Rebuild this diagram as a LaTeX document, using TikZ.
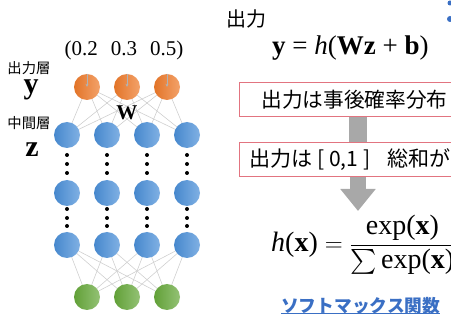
\documentclass[tikz,border=0pt]{standalone}
\usepackage{fontspec}
\usepackage{amsmath}
\usepackage{graphicx}
\setmainfont{Liberation Serif}
\newfontfamily\jpfont{Noto Sans CJK JP}
\usetikzlibrary{arrows.meta,backgrounds}
\definecolor{nblue}{HTML}{4A8FD8}
\definecolor{norange}{HTML}{EE7A2A}
\definecolor{ngreen}{HTML}{66A83A}
\definecolor{boxred}{HTML}{E27480}
\definecolor{linkblue}{HTML}{3A6FC4}
\definecolor{edgegray}{HTML}{D0D0D0}
\definecolor{fatgray}{HTML}{A8A8A8}
\newcommand\tx[1]{\text{#1}}
\newcommand\jpw[2]{\resizebox{#1}{!}{\jpfont #2}}
\tikzset{
  neuron/.style={circle, minimum size=26pt, inner sep=0pt},
  bneuron/.style={neuron, left color=nblue!95!black, right color=nblue!70!white},
  oneuron/.style={neuron, left color=norange!95!black, right color=norange!70!white},
  gneuron/.style={neuron, left color=ngreen!95!black, right color=ngreen!70!white},
  link/.style={draw=edgegray, line width=0.6pt},
  outarrow/.style={draw=gray!60, line width=0.6pt, -{Stealth[length=3pt,width=3pt]}},
  jplabel/.style={inner sep=0pt},
  bigvar/.style={font=\bfseries\fontsize{30}{30}\selectfont, inner sep=0pt},
  redbox/.style={draw=boxred, line width=1pt, fill=white, minimum height=34pt, inner ysep=1pt, anchor=west},
  bar/.style={draw=fatgray, line width=18pt},
  fatarrow/.style={draw=fatgray, line width=16pt, -{Triangle[width=34pt,length=22pt]}},
  ddot/.style={fill=black}
}
\begin{document}
\begin{tikzpicture}[x=1pt,y=-1pt]
\useasboundingbox (0,0) rectangle (451,326);
\clip (0,0) rectangle (451,326);
% neurons
\foreach \i/\x in {1/87,2/127,3/167} {
  \node[oneuron] (o\i) at (\x,87) {};
  \node[gneuron] (g\i) at (\x,297) {};
}
\foreach \j/\x in {1/67,2/107,3/147,4/187} {
  \node[bneuron] (t\j) at (\x,135) {};
  \node[bneuron] (m\j) at (\x,193) {};
  \node[bneuron] (c\j) at (\x,245) {};
  \foreach \y in {155,164,173,209,218,226} {
    \fill[ddot] (\x,\y) circle (2pt);
  }
}
\begin{scope}[on background layer]
\foreach \i in {1,2,3} {
  \foreach \j in {1,2,3,4} {
    \draw[link] (o\i) -- (t\j);
    \draw[link] (g\i) -- (c\j);
  }
}
\end{scope}
\foreach \i in {1,2,3} {
  \coordinate (oa\i) at ([yshift=-13pt]o\i.north);
  \draw[outarrow] (o\i.north) -- (oa\i);
}
% labels left
\node[font=\fontsize{21}{21}\selectfont, inner sep=0pt] (probs) at (124,50) {(0.2\hspace{13pt}0.3\hspace{13pt}0.5)};
\node[jplabel] (outlayer) at (29,68) {\jpw{43pt}{出力層}};
\node[bigvar] (yv) at (31,90) {y};
\node[jplabel] (midlayer) at (29,123) {\jpw{43pt}{中間層}};
\node[bigvar] (zv) at (32,150) {z};
\node[font=\bfseries\fontsize{21}{21}\selectfont, inner sep=0pt] (wv) at (127,113) {W};
% right side
\node[jplabel] (outtxt) at (246,19) {\jpw{40pt}{出力}};
\node[anchor=base west, inner sep=0pt, font=\fontsize{27}{30}\selectfont] (yform) at (272,55) {\textbf{y} = \textit{h}(\textbf{Wz} + \textbf{b})};
\node[redbox, inner xsep=22pt] (bx1) at (239,100) {\jpw{186pt}{出力は事後確率分布}};
\node[redbox, inner xsep=10pt] (bx2) at (239,160) {\jpw{201pt}{出力は [ 0,1 ]\hspace{8pt}総和が}};
\coordinate (xb) at (358,0);
\begin{scope}[on background layer]
\draw[bar] (bx1.south -| xb) -- (bx2.north -| xb);
\end{scope}
\coordinate (tip) at (358,211);
\draw[fatarrow] (bx2.south -| xb) -- (tip);
\node[anchor=west, inner sep=0pt, font=\fontsize{28}{32}\selectfont] (hform) at (271,245)
  {$\tx{\textit{h}(\textbf{x})} = \dfrac{\tx{exp(\textbf{x})}}{\sum\tx{exp(\textbf{x})}}$};
\node[anchor=west, inner sep=0pt, text=linkblue] (smax) at (281,306) {\resizebox{159pt}{!}{\jpfont\bfseries ソフトマックス関数}};
\draw[linkblue, line width=1pt] ([yshift=1pt]smax.south west) -- ([yshift=1pt]smax.south east);
\fill[linkblue] (450,3) circle (2.5pt);
\fill[linkblue] (450,19) circle (3pt);
\end{tikzpicture}
\end{document}
